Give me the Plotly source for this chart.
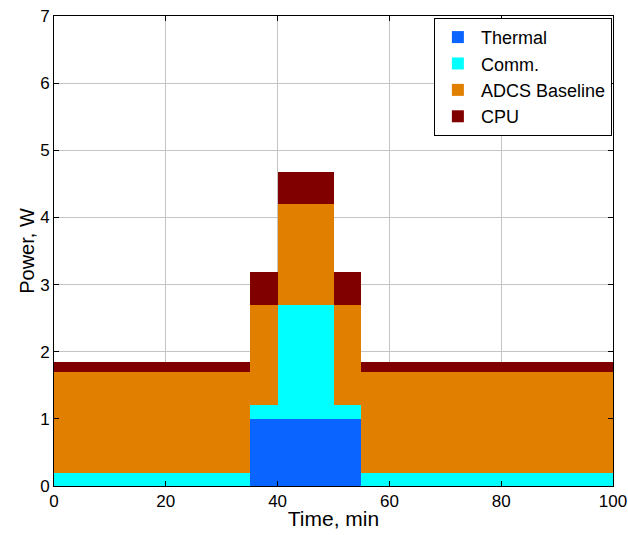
import plotly.graph_objects as go

# Data
time_edges = [0, 35, 40, 50, 55, 100]
thermal = [0, 1.0, 1.0, 1.0, 0]
comm = [0.2, 0.2, 1.7, 0.2, 0.2]
adcs = [1.5, 1.5, 1.5, 1.5, 1.5]
cpu = [0.15, 0.48, 0.48, 0.48, 0.15]

names = ["Thermal", "Comm.", "ADCS Baseline", "CPU"]
colors = ["#0A64FF", "#00FFFF", "#E07F00", "#800000"]
series = [thermal, comm, adcs, cpu]

centers = [(a + b) / 2 for a, b in zip(time_edges[:-1], time_edges[1:])]
widths = [b - a for a, b in zip(time_edges[:-1], time_edges[1:])]

fig = go.Figure()
for i, (nm, col, vals) in enumerate(zip(names, colors, series)):
    fig.add_trace(go.Bar(
        x=centers, y=vals, width=widths, name=nm,
        marker=dict(color=col, line=dict(width=0)),
        legendgroup=f"g{i}",
    ))

font = "Liberation Sans, Arial, sans-serif"
fig.update_layout(
    barmode="stack",
    width=628, height=535,
    margin=dict(l=54, r=15, t=16, b=49, autoexpand=False),
    paper_bgcolor="white", plot_bgcolor="white",
    font=dict(family=font, size=17, color="black"),
    showlegend=True,
    legend=dict(
        x=0.998, y=0.996, xanchor="right", yanchor="top",
        bgcolor="white", bordercolor="black", borderwidth=1,
        font=dict(family=font, size=18, color="black"),
        tracegroupgap=0, traceorder="normal", itemwidth=36,
    ),
)
fig.update_xaxes(
    range=[0, 100], tickvals=[0, 20, 40, 60, 80, 100],
    showgrid=True, gridcolor="#c4c4c4", gridwidth=1,
    showline=True, linecolor="black", linewidth=1, mirror="ticks",
    ticks="inside", ticklen=5, tickcolor="black",
    zeroline=False, automargin=False,
    title=dict(text="Time, min", font=dict(size=21), standoff=0),
    tickfont=dict(size=17),
)
fig.update_yaxes(
    range=[0, 7], tickvals=[0, 1, 2, 3, 4, 5, 6, 7],
    showgrid=True, gridcolor="#c4c4c4", gridwidth=1,
    showline=True, linecolor="black", linewidth=1, mirror="ticks",
    ticks="inside", ticklen=5, tickcolor="black",
    zeroline=False, automargin=False,
    title=dict(text="Power, W", font=dict(size=20), standoff=0),
    tickfont=dict(size=17),
)

fig.write_html("out.html")
